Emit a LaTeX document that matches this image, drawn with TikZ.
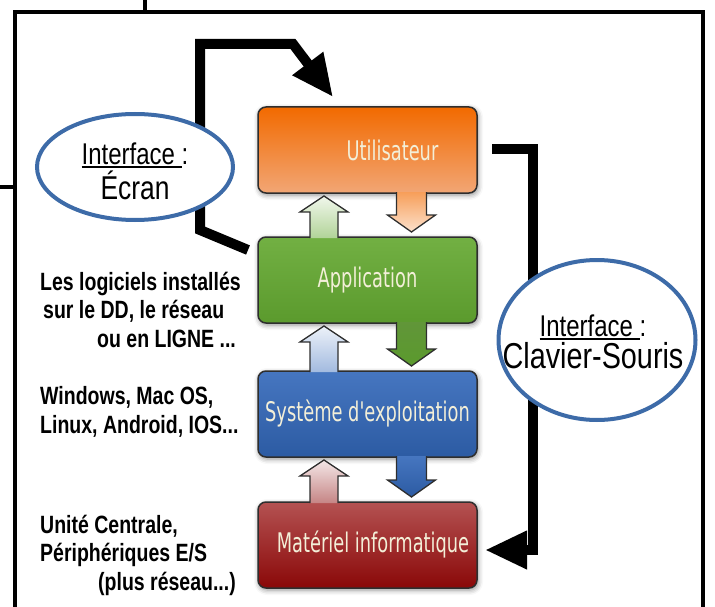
\documentclass[tikz,border=0pt]{standalone}
\usepackage{fontspec}
\usepackage{tikz}
\usetikzlibrary{calc,positioning,shapes.geometric,shadows.blur,arrows.meta}
\newfontfamily\boxfont{DejaVu Sans}[FakeStretch=0.66]
\newfontfamily\sidefont{Liberation Sans}[FakeStretch=0.78]
\newfontfamily\ellfont{Liberation Sans}[FakeStretch=0.8]
\definecolor{usrTop}{HTML}{F26A00}
\definecolor{usrBot}{HTML}{F2A675}
\definecolor{appTop}{HTML}{72B043}
\definecolor{appBot}{HTML}{5B9A2D}
\definecolor{osTop}{HTML}{4676C0}
\definecolor{osBot}{HTML}{2C5BA3}
\definecolor{hwTop}{HTML}{B45252}
\definecolor{hwMid}{HTML}{8C0B0B}
\definecolor{hwBot}{HTML}{8A0808}
\definecolor{boxtext}{HTML}{F3EFD8}
\definecolor{boxline}{HTML}{2E2E2E}
\definecolor{ellblue}{HTML}{3D6BA8}
\newcommand{\undl}[1]{\setbox0\hbox{#1}\rlap{\rule[-3.5pt]{\wd0}{1.5pt}}\box0}

\begin{document}
\begin{tikzpicture}[x=1pt,y=-1pt,
   box/.style={draw=boxline, line width=1.5pt, rounded corners=8pt, outer sep=0pt,
      minimum width=219pt, minimum height=86pt, inner sep=0pt, text=boxtext,
      font=\boxfont\fontsize{27}{32}\selectfont,
      blur shadow={shadow xshift=1pt, shadow yshift=-2pt, shadow blur radius=5pt, shadow opacity=45}},
   blk/.style={draw=boxline, line width=1.3pt, line join=miter},
   upGreen/.style={top color=white!90!appTop, bottom color=white!45!appTop},
   upBlue/.style={top color=white!90!osTop, bottom color=white!50!osTop},
   upRed/.style={top color=white!90!hwMid, bottom color=white!50!hwMid},
   dnOrange/.style={top color=white!35!usrTop, bottom color=white!80!usrTop},
   dnGreen/.style={top color=appTop!85!black, bottom color=appBot},
   dnBlue/.style={top color=osTop, bottom color=osBot},
   flow/.style={line width=10pt, -{Triangle[length=42pt,width=36pt]}},
   ell/.style={ellipse, draw=ellblue, line width=4pt, fill=white, inner sep=0pt},
   elltext/.style={align=center, inner sep=0pt, font=\ellfont},
   side/.style={anchor=base west, align=left, inner sep=0pt, font=\sidefont\bfseries\fontsize{25}{28.5}\selectfont}]
   \useasboundingbox (0,0) rectangle (715,607);
   \draw[line width=4.5pt] (15,615) -- (15,12) -- (703,12) -- (703,615);
   \draw[line width=4pt] (145,0) -- (145,12) (0,187) -- (15,187);

   \node[box, top color=usrTop, bottom color=usrBot] (usr) at (367.5,150) {\hspace*{50pt}Utilisateur};
   \node[box, top color=appTop, bottom color=appBot, below=44pt of usr] (app) {Application};
   \node[box, top color=osTop, bottom color=osBot, below=48pt of app] (os) {Système d'exploitation};
   \node[box, top color=hwTop, middle color=hwMid, bottom color=hwBot, below=45pt of os] (hw) {\hspace*{11pt}Matériel informatique};

   \foreach \hi/\lo/\upc/\dnc in {usr/app/upGreen/dnOrange, app/os/upBlue/dnGreen, os/hw/upRed/dnBlue}{
      \draw[blk, \upc] ($(\lo.north)+(-57.5,1)$) -- ($(\hi.south)+(-57.5,19)$) -- ($(\hi.south)+(-67.5,19)$)
         -- ($(\hi.south)+(-43.5,3)$) -- ($(\hi.south)+(-19.5,19)$) -- ($(\hi.south)+(-29.5,19)$) -- ($(\lo.north)+(-29.5,1)$);
      \draw[blk, \dnc] ($(\hi.south)+(29,-1)$) -- ($(\lo.north)+(29,-22)$) -- ($(\lo.north)+(20,-22)$)
         -- ($(\lo.north)+(44,-5)$) -- ($(\lo.north)+(68,-22)$) -- ($(\lo.north)+(59,-22)$) -- ($(\hi.south)+(59,-1)$);
   }

   \draw[flow] ($(app.north west)+(-10,13)$) -- ++(-48,-20) |- ++(93,-186) -- ($(usr.north)+(-34.5,-10)$);
   \draw[flow] ($(usr.east)+(15,-1)$) -- ++(41,0) |- ($(hw.east)+(8,5)$);

   \node[ell, minimum width=196pt, minimum height=106pt] (scr) at (135,167) {};
   \node[elltext] (scrtxt) at ($(scr)+(0,4)$)
      {\fontsize{30}{34}\selectfont\undl{Interface\ }:\\[2pt]\fontsize{33}{38}\selectfont Écran};
   \node[ell, minimum width=197pt, minimum height=160pt] (kbd) at (597,340) {};
   \node[elltext] (kbdtxt) at ($(kbd)+(-4,2)$)
      {\fontsize{30}{34}\selectfont\undl{Interface\ }:\\[2pt]\fontsize{36}{40}\selectfont Clavier-Souris};

   \node[side] (soft) at (40,347) {Les logiciels installés\\\hspace*{3pt}sur le DD, le réseau\\\hspace*{57pt}ou en LIGNE ...};
   \node[side] (sys) at (40,433) {Windows, Mac OS,\\Linux, Android, IOS...};
   \node[side] (mat) at (40,590) {Unité Centrale,\\Périphériques E/S\\\hspace*{58pt}(plus réseau...)};
\end{tikzpicture}
\end{document}
